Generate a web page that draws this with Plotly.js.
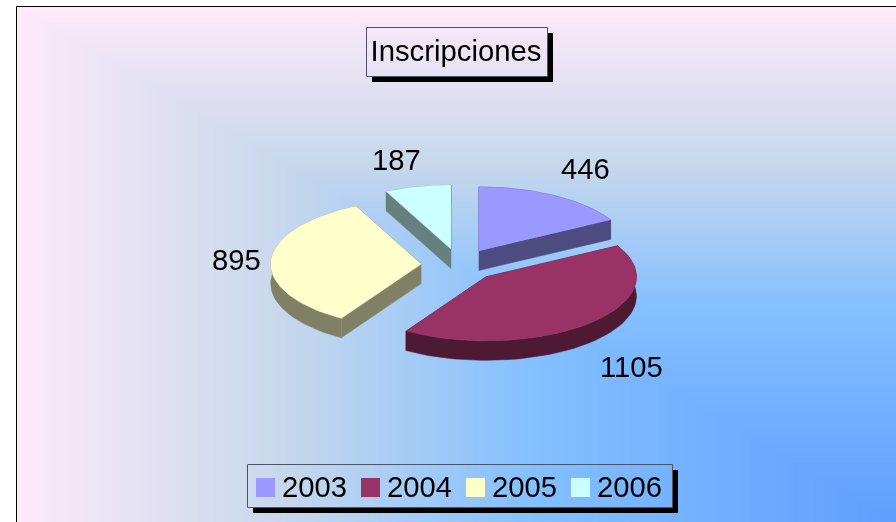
<!DOCTYPE html>
<html>
<head>
<meta charset="utf-8">
<script src="https://cdn.plot.ly/plotly-3.0.1.min.js"></script>
<style>
html,body{margin:0;padding:0;background:#fff;overflow:hidden}
#wrap{position:relative;width:896px;height:522px}
#bg,#chart{position:absolute;left:0;top:0}
</style>
</head>
<body>
<div id="wrap"><canvas id="bg" width="896" height="522"></canvas><div id="chart" style="width:896px;height:522px"></div></div>
<script>
// ---- chart data ----
const titleText = "Inscripciones";
const categories = ["2003", "2004", "2005", "2006"];
const values = [446, 1105, 895, 187];
const topColors = ["#9999ff", "#993366", "#ffffcc", "#ccffff"];
const sideColors = ["#4c4c80", "#4d1933", "#808066", "#668080"];

// ---- layout constants (pixels) ----
const W = 896, H = 522;
const cx = 459.5, cy = 265, rx = 150.5, ry = 64, depth = 19.5, explode = 0.255;
const drawOrder = [3, 0, 2, 1];
const labelX = [585, 631.5, 236, 396];
const labelY = [169, 367, 260, 160];

// ---- background gradient ----
(function () {
  const ctx = document.getElementById('bg').getContext('2d');
  const img = ctx.createImageData(W, H), d = img.data;
  const gx = 896, gy = 522, fx = 16, fy = 6;
  const stops = [[0, [95, 158, 255]], [0.42, [133, 192, 255]], [0.70, [200, 216, 236]], [1, [253, 234, 249]]];
  for (let y = 0; y < H; y++) for (let x = 0; x < W; x++) {
    const i = (y * W + x) * 4;
    let c = [255, 255, 255];
    if (x >= fx && y >= fy) {
      const t = Math.min(1, Math.max((gx - x) / (gx - fx), (gy - y) / (gy - fy)));
      let k = 0;
      while (k < stops.length - 2 && t > stops[k + 1][0]) k++;
      const f = (t - stops[k][0]) / (stops[k + 1][0] - stops[k][0]);
      c = stops[k][1].map((v, j) => v + f * (stops[k + 1][1][j] - v));
    }
    d[i] = c[0]; d[i + 1] = c[1]; d[i + 2] = c[2]; d[i + 3] = 255;
  }
  ctx.putImageData(img, 0, 0);
})();

// ---- geometry from values ----
const total = values.reduce((a, b) => a + b, 0);
const rad = a => a * Math.PI / 180;
let cum = 0;
const slices = values.map(v => {
  const a0 = cum / total * 360; cum += v;
  const a1 = cum / total * 360, mid = (a0 + a1) / 2;
  const vx = cx + explode * rx * Math.sin(rad(mid));
  const vy = cy - explode * ry * Math.cos(rad(mid));
  const arc = [];
  for (let k = 0; k <= 60; k++) {
    const a = a0 + (a1 - a0) * k / 60;
    arc.push([vx + rx * Math.sin(rad(a)), vy - ry * Math.cos(rad(a))]);
  }
  return { vx, vy, arc };
});

const traces = [];
const polyTrace = (pts, color, name) => ({
  type: 'scatter', mode: 'lines', name,
  x: pts.map(p => p[0]), y: pts.map(p => p[1]), fill: 'toself', fillcolor: color,
  line: { width: 0.5, color }, hoverinfo: 'skip', showlegend: false
});
drawOrder.forEach(i => {
  const s = slices[i];
  const first = s.arc[0], last = s.arc[s.arc.length - 1];
  const rim = s.arc.concat(s.arc.slice().reverse().map(p => [p[0], p[1] + depth]));
  traces.push(polyTrace(rim, sideColors[i], categories[i]));
  traces.push(polyTrace([[s.vx, s.vy], first, [first[0], first[1] + depth], [s.vx, s.vy + depth]], sideColors[i], categories[i]));
  traces.push(polyTrace([[s.vx, s.vy], last, [last[0], last[1] + depth], [s.vx, s.vy + depth]], sideColors[i], categories[i]));
  traces.push(polyTrace([[s.vx, s.vy]].concat(s.arc), topColors[i], categories[i]));
});

// ---- legend swatches ----
const legLeft = 256, legPitch = 105, legY = 487.5;
traces.push({ type: 'scatter', mode: 'markers',
  x: categories.map((c, i) => legLeft + i * legPitch + 9.5), y: categories.map(() => legY),
  marker: { symbol: 'square', size: 19, color: topColors, line: { width: 0 } },
  hoverinfo: 'skip', showlegend: false });

const font = { family: '"Liberation Sans", Arial, sans-serif', size: 29.2, color: '#000' };
const ann = (text, x, y, xanchor) => ({ text, x, y, xref: 'x', yref: 'y', xanchor: xanchor || 'center',
  yanchor: 'middle', showarrow: false, font, borderpad: 0 });
const annotations = values.map((v, i) => ann(String(v), labelX[i], labelY[i]))
  .concat(categories.map((c, i) => ann(c, legLeft + i * legPitch + 24.5, 487, 'left')));

// box with drop shadow
const boxShapes = (l, t, r, b, o) => [
  { type: 'path', xref: 'x', yref: 'y', layer: 'below', line: { width: 0 }, fillcolor: '#000',
    path: `M${r},${t + o} L${r + o},${t + o} L${r + o},${b + o} L${l + o},${b + o} L${l + o},${b} L${r},${b} Z` },
  { type: 'rect', xref: 'x', yref: 'y', layer: 'below', x0: l, y0: t, x1: r, y1: b,
    line: { width: 1, color: '#4a5568' }, fillcolor: 'rgba(0,0,0,0)' }
];
const shapes = [
  { type: 'rect', xref: 'x', yref: 'y', layer: 'below', x0: 16.5, y0: 6.5, x1: 960, y1: 600,
    line: { width: 1, color: '#000' }, fillcolor: 'rgba(0,0,0,0)' }
].concat(boxShapes(366.5, 27.5, 547.5, 76.5, 5.5), boxShapes(247.5, 464.5, 672.5, 507.5, 5.5));

Plotly.newPlot('chart', traces, {
  width: W, height: H,
  margin: { l: 0, r: 0, t: 0, b: 0 },
  paper_bgcolor: 'rgba(0,0,0,0)', plot_bgcolor: 'rgba(0,0,0,0)',
  title: { text: titleText, font: Object.assign({}, font, { size: 29.3 }), x: 456 / W, y: 1 - 51 / H, xref: 'paper', yref: 'paper', xanchor: 'center', yanchor: 'middle' },
  xaxis: { range: [0, W], visible: false, fixedrange: true },
  yaxis: { range: [H, 0], visible: false, fixedrange: true },
  showlegend: false, hovermode: false,
  shapes, annotations
}, { displayModeBar: false, staticPlot: true });
</script>
</body>
</html>
